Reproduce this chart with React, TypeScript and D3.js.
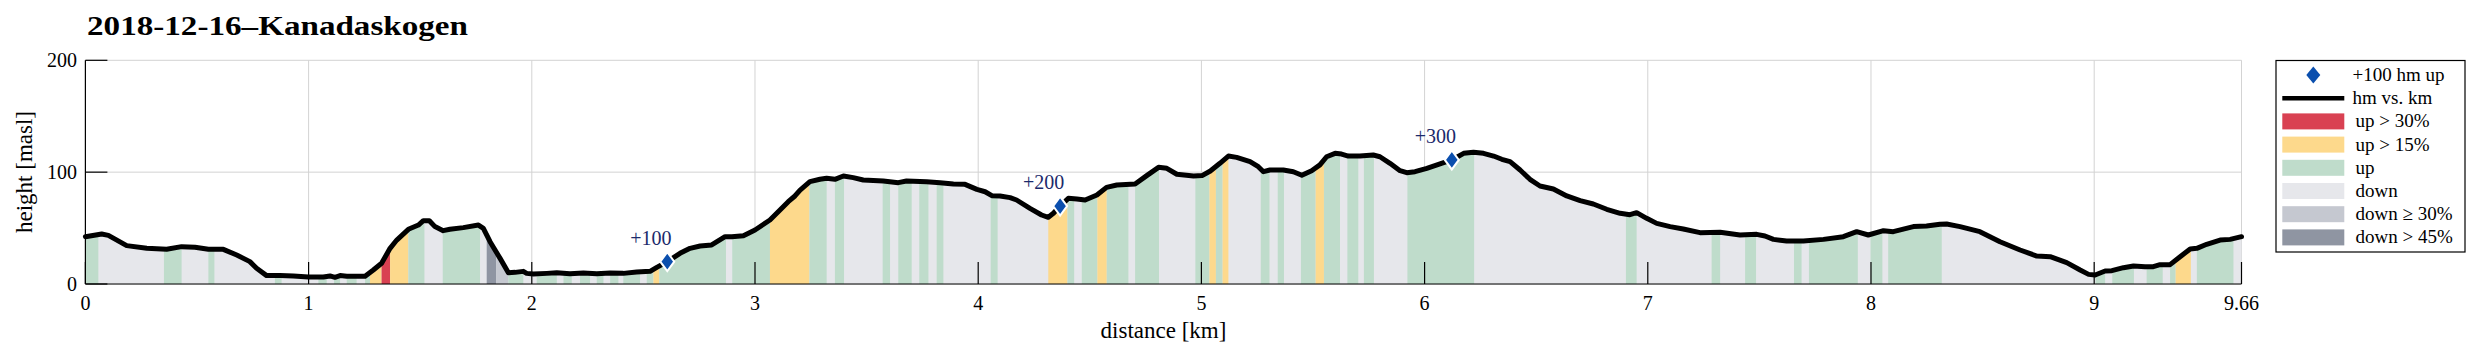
import React from "react";
import * as d3 from "d3";

// ---------- data ----------
const profileKm = [
  0.0, 0.073, 0.103, 0.185, 0.275, 0.364, 0.431, 0.491, 0.551, 0.618, 0.678, 0.737, 0.767, 0.812, 0.872, 0.932,
  0.999, 1.066, 1.096, 1.118, 1.141, 1.171, 1.253, 1.29, 1.327, 1.365, 1.395, 1.447, 1.492, 1.514, 1.541, 1.566,
  1.603, 1.633, 1.693, 1.761, 1.783, 1.813, 1.858, 1.895, 1.925, 1.962, 1.977, 2.007, 2.067, 2.112, 2.171, 2.231,
  2.291, 2.351, 2.41, 2.47, 2.53, 2.56, 2.607, 2.664, 2.709, 2.754, 2.806, 2.866, 2.896, 2.948, 3.0, 3.067, 3.112,
  3.149, 3.179, 3.202, 3.246, 3.291, 3.321, 3.358, 3.396, 3.44, 3.485, 3.575, 3.642, 3.679, 3.769, 3.829, 3.889,
  3.941, 3.994, 4.031, 4.061, 4.098, 4.143, 4.172, 4.232, 4.284, 4.314, 4.337, 4.367, 4.404, 4.442, 4.479, 4.532,
  4.575, 4.621, 4.703, 4.755, 4.808, 4.845, 4.89, 4.965, 5.003, 5.04, 5.083, 5.121, 5.158, 5.218, 5.255, 5.278,
  5.307, 5.367, 5.412, 5.45, 5.494, 5.531, 5.561, 5.599, 5.628, 5.658, 5.71, 5.77, 5.8, 5.845, 5.89, 5.92, 5.957,
  6.01, 6.069, 6.122, 6.175, 6.219, 6.264, 6.309, 6.346, 6.383, 6.428, 6.472, 6.517, 6.577, 6.637, 6.697, 6.756,
  6.816, 6.876, 6.92, 6.95, 6.995, 7.04, 7.1, 7.159, 7.234, 7.324, 7.413, 7.488, 7.525, 7.563, 7.622, 7.697, 7.787,
  7.876, 7.936, 7.988, 8.056, 8.1, 8.19, 8.249, 8.309, 8.339, 8.399, 8.488, 8.578, 8.668, 8.743, 8.803, 8.877,
  8.937, 8.975, 9.004, 9.049, 9.079, 9.131, 9.176, 9.228, 9.265, 9.295, 9.34, 9.385, 9.43, 9.46, 9.504, 9.564,
  9.609, 9.66,
];
const profileElev = [
  42.3, 44.7, 43.5, 34.3, 31.9, 31.0, 33.4, 32.8, 31.0, 31.0, 25.9, 20.0, 14.0, 7.5, 7.5, 7.2,
  6.3, 6.3, 7.2, 6.0, 7.5, 6.9, 6.9, 12.5, 18.5, 31.9, 39.3, 48.9, 52.7, 56.6, 56.6, 51.3,
  47.7, 48.9, 50.4, 52.7, 49.8, 37.8, 22.9, 10.1, 10.4, 11.3, 9.5, 8.9, 9.5, 10.1, 9.2, 9.8,
  9.2, 9.8, 9.5, 10.7, 11.3, 14.9, 20.0, 27.4, 31.9, 34.0, 34.9, 42.3, 42.3, 43.2, 48.3, 57.2, 66.2,
  73.6, 78.7, 84.0, 91.5, 93.6, 94.5, 93.6, 96.6, 95.1, 93.0, 92.1, 90.6, 92.1, 91.5, 90.6, 89.4,
  89.1, 84.6, 82.5, 79.0, 78.7, 77.2, 75.1, 67.6, 61.7, 59.6, 63.2, 69.7, 76.6, 76.0, 75.1, 79.6,
  86.4, 88.5, 89.4, 96.9, 104.3, 103.4, 98.1, 96.6, 96.9, 101.0, 107.9, 114.4, 113.2, 109.4, 104.9, 100.4,
  101.9, 101.9, 100.4, 97.2, 101.3, 106.5, 113.8, 116.8, 116.2, 114.4, 114.4, 115.3, 113.8, 107.9, 101.3, 99.5, 100.4,
  103.4, 107.3, 110.9, 116.8, 117.7, 116.8, 114.4, 111.5, 109.4, 101.9, 93.6, 87.6, 84.9, 78.7, 74.5, 71.5,
  66.8, 63.2, 62.0, 63.8, 58.7, 54.2, 51.3, 49.2, 45.9, 46.2, 43.8, 44.4, 42.9, 39.9, 38.4, 38.4, 39.9,
  42.3, 46.8, 43.8, 47.7, 46.8, 51.3, 51.9, 53.5, 53.6, 51.3, 46.8, 37.8, 30.4, 25.0, 24.4, 19.1,
  12.5, 8.6, 8.0, 11.6, 11.9, 14.6, 16.1, 15.5, 15.5, 17.3, 17.3, 24.4, 31.3, 31.9, 35.5, 39.3,
  39.9, 42.3,
];

// gradient bands (everything not listed is "down")
const bandStart = [
  0.0, 0.352, 0.551, 0.849, 1.044, 1.114, 1.171, 1.253, 1.275, 1.327, 1.365, 1.447, 1.601, 1.798, 1.84, 1.895,
  2.022, 2.142, 2.216, 2.291, 2.351, 2.41, 2.515, 2.545, 2.571, 2.898, 3.067, 3.244, 3.358, 3.572, 3.642, 3.736,
  3.814, 4.056, 4.314, 4.4, 4.464, 4.534, 4.576, 4.703, 4.973, 5.036, 5.065, 5.095, 5.266, 5.342, 5.446, 5.512,
  5.549, 5.654, 5.728, 5.923, 6.902, 7.286, 7.436, 7.655, 7.722, 7.998, 8.077, 9.006, 9.081, 9.235, 9.34, 9.365,
  9.46,
];
const bandEnd = [
  0.058, 0.431, 0.578, 0.879, 1.081, 1.141, 1.215, 1.275, 1.327, 1.365, 1.447, 1.519, 1.768, 1.84, 1.895, 1.962,
  2.112, 2.179, 2.261, 2.321, 2.388, 2.485, 2.545, 2.571, 2.87, 3.067, 3.244, 3.321, 3.399, 3.605, 3.702, 3.777,
  3.844, 4.087, 4.4, 4.43, 4.534, 4.576, 4.673, 4.81, 5.036, 5.065, 5.095, 5.121, 5.305, 5.37, 5.512, 5.549,
  5.621, 5.703, 5.773, 6.222, 6.95, 7.324, 7.485, 7.689, 7.941, 8.051, 8.317, 9.049, 9.178, 9.307, 9.365, 9.433,
  9.624,
];
const bandType = [
  "up", "up", "up", "up", "up", "up", "up", "up", "up15", "up30", "up15", "up", "up", "down45", "down30", "up",
  "up", "up", "up", "up", "up", "up", "up", "up15", "up", "up", "up15", "up", "up", "up", "up", "up",
  "up", "up", "up15", "up", "up", "up15", "up", "up", "up", "up15", "up", "up15", "up", "up", "up", "up15",
  "up", "up", "up", "up", "up", "up", "up", "up", "up", "up", "up", "up", "up", "up", "up", "up15",
  "up",
];

const markerKm = [2.607, 4.367, 6.122];
const markerElev = [20.0, 69.7, 110.9];
const markerLabel = ["+100", "+200", "+300"];

const xTicks = [0, 1, 2, 3, 4, 5, 6, 7, 8, 9, 9.66];
const xTickLabels = ["0", "1", "2", "3", "4", "5", "6", "7", "8", "9", "9.66"];
const yTicks = [0, 100, 200];

const legendKeys = ["up30", "up15", "up", "down", "down30", "down45"];
const legendLabels = ["up > 30%", "up > 15%", "up", "down", "down \u2265 30%", "down > 45%"];

const colors: Record<string, string> = {
  up30: "#d94152",
  up15: "#fdd98c",
  up: "#bfdccb",
  down: "#e6e7eb",
  down30: "#c5c8d0",
  down45: "#8f95a2",
};

const FONT = "'Liberation Serif', 'Times New Roman', serif";

export default function App() {
  const x = d3.scaleLinear().domain([0, 9.66]).range([85.4, 2241.5]);
  const y = d3.scaleLinear().domain([0, 200]).range([284, 60.3]);
  const pts = profileKm.map((k, i) => [k, profileElev[i]] as [number, number]);
  const areaGen = d3
    .area<[number, number]>()
    .x((d) => x(d[0]))
    .y0(y(0))
    .y1((d) => y(d[1]));
  const lineGen = d3
    .line<[number, number]>()
    .x((d) => x(d[0]))
    .y((d) => y(d[1]));
  const areaPath = areaGen(pts) || "";
  const linePath = lineGen(pts) || "";

  const diamond = (cx: number, cy: number, hw: number, hh: number) =>
    `M${cx},${cy - hh}L${cx + hw},${cy}L${cx},${cy + hh}L${cx - hw},${cy}Z`;

  const legX = 2276;
  const legY = 60.5;
  const rowY = (i: number) => 75 + i * 23.2;

  return (
    <svg
      width={2479}
      height={357}
      style={{ position: "absolute", left: 0, top: 0, background: "#fff" }}
      fontFamily={FONT}
    >
      <defs>
        <clipPath id="under">
          <path d={areaPath} />
        </clipPath>
      </defs>

      {/* title */}
      <text x={87} y={35} fontSize={28} fontWeight="bold" textLength={381} lengthAdjust="spacingAndGlyphs" fill="#000">
        2018-12-16–Kanadaskogen
      </text>

      {/* grid */}
      {xTicks.map((t, i) => (
        <line key={"gx" + i} x1={x(t)} x2={x(t)} y1={y(200)} y2={y(0)} stroke="#d3d3d3" strokeWidth={1} />
      ))}
      {yTicks.map((t, i) => (
        <line key={"gy" + i} x1={x(0)} x2={x(9.66)} y1={y(t)} y2={y(t)} stroke="#d3d3d3" strokeWidth={1} />
      ))}

      {/* filled profile */}
      <path d={areaPath} fill={colors.down} />
      <g clipPath="url(#under)">
        {bandStart.map((s, i) => (
          <rect
            key={"b" + i}
            x={x(s)}
            width={Math.max(0, x(bandEnd[i]) - x(s))}
            y={y(200)}
            height={y(0) - y(200)}
            fill={colors[bandType[i]]}
          />
        ))}
      </g>

      {/* profile line */}
      <path d={linePath} fill="none" stroke="#000" strokeWidth={5} strokeLinejoin="round" strokeLinecap="round" />

      {/* markers */}
      {markerKm.map((k, i) => (
        <g key={"m" + i}>
          <path d={diamond(x(k), y(markerElev[i]), 7, 9.5)} fill="#0b4fae" stroke="#fff" strokeWidth={2} />
          <text
            x={x(k) - 16.5}
            y={y(markerElev[i]) - 17}
            textAnchor="middle"
            fontSize={20}
            fill="#1b2a6b"
          >
            {markerLabel[i]}
          </text>
        </g>
      ))}

      {/* axes */}
      <line x1={x(0)} x2={x(0)} y1={y(200)} y2={y(0)} stroke="#000" strokeWidth={1.2} />
      <line x1={x(0)} x2={x(9.66)} y1={y(0)} y2={y(0)} stroke="#000" strokeWidth={1.2} />
      {xTicks.map((t, i) => (
        <g key={"xt" + i}>
          <line x1={x(t)} x2={x(t)} y1={y(0)} y2={y(0) - 22} stroke="#000" strokeWidth={1.2} />
          <text x={x(t)} y={309.5} textAnchor="middle" fontSize={20} fill="#000">
            {xTickLabels[i]}
          </text>
        </g>
      ))}
      {yTicks.map((t, i) => (
        <g key={"yt" + i}>
          <line x1={x(0)} x2={x(0) + 22} y1={y(t)} y2={y(t)} stroke="#000" strokeWidth={1.2} />
          <text x={77} y={y(t) + 6.5} textAnchor="end" fontSize={20} fill="#000">
            {t}
          </text>
        </g>
      ))}

      {/* axis labels */}
      <text x={1163.5} y={338} textAnchor="middle" fontSize={23} fill="#000">
        distance [km]
      </text>
      <text transform="translate(32,172) rotate(-90)" textAnchor="middle" fontSize={23} fill="#000">
        height [masl]
      </text>

      {/* legend */}
      <rect x={legX} y={legY} width={189} height={191.5} fill="#fff" stroke="#000" strokeWidth={1.2} />
      <path d={diamond(2313.3, rowY(0), 7, 8.5)} fill="#0b4fae" />
      <text x={2352.5} y={rowY(0) + 6} fontSize={19} fill="#000">
        +100 hm up
      </text>
      <line x1={2282.3} x2={2344.3} y1={rowY(1)} y2={rowY(1)} stroke="#000" strokeWidth={4.5} />
      <text x={2352.5} y={rowY(1) + 6} fontSize={19} fill="#000">
        hm vs. km
      </text>
      {legendKeys.map((k, i) => (
        <g key={"l" + k}>
          <rect x={2282.3} y={rowY(i + 2) - 8} width={62} height={16} fill={colors[k]} />
          <text x={2355.5} y={rowY(i + 2) + 6} fontSize={19} fill="#000">
            {legendLabels[i]}
          </text>
        </g>
      ))}
    </svg>
  );
}
